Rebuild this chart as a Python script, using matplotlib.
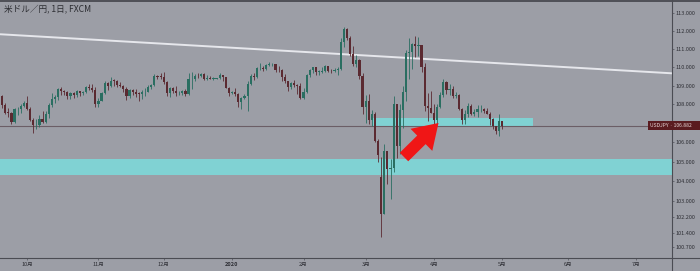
import numpy as np
import pandas as pd
import matplotlib
matplotlib.use('Agg')
import matplotlib.pyplot as plt
from matplotlib.patches import FancyArrow, Rectangle
from matplotlib.lines import Line2D
from matplotlib.ticker import FixedLocator, NullLocator

plt.rcParams['font.family'] = ['Noto Sans CJK JP', 'DejaVu Sans']

title = '米ドル／円, 1日, FXCM'
symbol = 'USDJPY'
last_price = 106.882

# daily candles, 2019-09-18 .. 2020-05-01 (weekdays)
opens = [
    108.15, 108.45, 107.97, 107.56, 107.55, 107.05, 107.75, 107.76, 107.92,
    108.07, 107.76, 107.18, 106.90, 106.93, 107.25, 107.09, 107.49, 107.95, 108.28, 108.38, 108.85,
    108.74, 108.64, 108.43, 108.62, 108.48, 108.70, 108.62, 108.67, 108.94, 108.88, 108.77,
    108.03, 108.20, 108.59, 109.16, 108.97, 109.28, 109.26, 109.05, 109.00, 108.82, 108.44,
    108.79, 108.66, 108.58, 108.57, 108.64, 108.69, 108.96, 109.05, 109.52, 109.48,
    109.47, 109.18, 108.62, 108.87, 108.74, 108.59, 108.59, 108.70, 108.55, 109.36, 109.37,
    109.54, 109.52, 109.62, 109.39, 109.43, 109.38, 109.38, 109.40, 109.56, 109.45, 108.87,
    108.61, 108.65, 108.55, 108.11, 108.36, 108.45, 109.08, 109.52, 109.47, 109.95, 109.98, 109.89,
    110.14, 110.15, 110.17, 109.85, 109.83, 109.48, 109.27, 108.93, 109.16, 109.02, 108.99,
    108.36, 108.67, 109.56, 109.83, 109.99, 109.76, 109.76, 109.81, 110.07, 109.82,
    109.78, 109.87, 109.89, 111.40, 112.11, 111.61, 110.72, 110.20, 110.39, 109.51,
    107.89, 108.20, 107.16, 107.50, 106.10, 104.20, 102.35, 105.55, 104.62, 104.66, 108.01,
    105.83, 107.71, 108.67, 110.77, 110.80, 111.24, 111.18, 111.20, 110.03, 107.94, 107.80,
    107.53, 107.16, 107.88, 108.48, 109.22, 108.78, 108.81, 108.45, 108.48, 107.76, 107.20,
    107.52, 107.92, 107.52, 107.62, 107.74, 107.76, 107.65, 107.50, 107.25, 106.87, 106.58,
    107.14,
]
highs = [
    108.48, 108.48, 108.07, 107.79, 107.62, 107.84, 107.86, 108.03, 108.18,
    108.47, 107.87, 107.29, 107.21, 107.43, 107.64, 107.64, 108.08, 108.63, 108.48, 108.90,
    108.94, 108.78, 108.74, 108.68, 108.68, 108.76, 108.70, 108.74, 109.00, 109.07, 109.11, 108.95,
    108.32, 108.68, 109.24, 109.19, 109.48, 109.36, 109.29, 109.19, 109.06, 108.91, 108.83,
    108.84, 108.82, 108.64, 108.76, 108.88, 109.03, 109.12, 109.61, 109.60, 109.69,
    109.72, 109.23, 108.92, 108.91, 108.98, 108.72, 108.77, 108.83, 109.70, 109.73, 109.61,
    109.69, 109.71, 109.70, 109.57, 109.53, 109.48, 109.44, 109.68, 109.59, 109.49, 108.94,
    108.72, 108.86, 108.62, 108.38, 108.56, 109.28, 109.64, 109.69, 110.00, 110.22, 110.04, 110.19,
    110.29, 110.22, 110.20, 110.04, 109.91, 109.63, 109.18, 109.22, 109.33, 109.12, 109.15,
    108.86, 109.62, 109.93, 110.02, 110.02, 109.86, 110.02, 110.14, 110.08, 109.89,
    109.94, 110.00, 111.59, 112.22, 112.16, 111.68, 111.17, 110.65, 110.47, 109.70,
    108.51, 108.57, 107.70, 107.58, 106.20, 105.23, 105.91, 105.57, 105.15, 108.44, 107.84,
    108.00, 108.99, 110.95, 111.57, 111.31, 111.71, 111.66, 111.16, 110.21, 108.59, 108.70,
    108.04, 108.00, 108.68, 109.38, 109.28, 109.10, 109.00, 108.66, 108.56, 107.83, 107.73,
    108.08, 108.05, 107.78, 107.99, 107.98, 107.82, 107.82, 107.59, 107.27, 106.88, 107.47,
    107.10,
]
lows = [
    108.07, 107.79, 107.51, 107.32, 106.97, 107.00, 107.43, 107.57, 107.88,
    107.72, 107.11, 106.48, 106.69, 106.80, 107.00, 107.01, 107.30, 107.87, 108.10, 108.24,
    108.50, 108.50, 108.29, 108.30, 108.35, 108.41, 108.45, 108.53, 108.60, 108.78, 108.64, 107.89,
    107.88, 108.20, 108.55, 108.77, 108.92, 108.99, 108.92, 108.94, 108.64, 108.25, 108.33,
    108.53, 108.42, 108.21, 108.28, 108.47, 108.66, 108.83, 109.00, 109.37, 109.39,
    109.07, 108.43, 108.42, 108.63, 108.45, 108.48, 108.49, 108.44, 108.53, 108.84, 109.28,
    109.44, 109.45, 109.29, 109.31, 109.34, 109.32, 109.34, 109.36, 109.28, 108.86, 108.46,
    108.56, 108.46, 107.85, 107.77, 108.30, 107.65, 109.05, 109.29, 109.44, 109.85, 109.77, 109.84,
    110.05, 110.07, 109.76, 109.76, 109.26, 109.17, 108.73, 108.81, 108.93, 108.58, 108.31,
    108.30, 108.60, 109.45, 109.70, 109.60, 109.57, 109.68, 109.76, 109.75, 109.70,
    109.76, 109.60, 109.86, 111.11, 111.50, 110.62, 110.06, 110.00, 109.37, 107.51,
    107.00, 106.96, 106.84, 106.00, 105.01, 101.18, 102.65, 103.88, 103.08, 104.46, 105.17,
    105.42, 106.76, 108.17, 109.37, 109.91, 110.57, 110.59, 109.76, 107.68, 107.14, 107.54,
    106.92, 106.95, 107.79, 108.40, 108.56, 108.52, 108.34, 108.34, 107.69, 106.95, 106.98,
    107.36, 107.43, 107.39, 107.35, 107.60, 107.57, 107.48, 106.90, 106.73, 106.46, 106.36,
    106.68,
]
closes = [
    108.45, 107.97, 107.56, 107.55, 107.05, 107.75, 107.76, 107.92, 108.07,
    107.76, 107.18, 106.90, 106.93, 107.25, 107.09, 107.49, 107.95, 108.28, 108.38, 108.85,
    108.74, 108.64, 108.43, 108.62, 108.48, 108.70, 108.62, 108.67, 108.94, 108.88, 108.77, 108.03,
    108.20, 108.59, 109.16, 108.97, 109.28, 109.26, 109.05, 109.00, 108.82, 108.44, 108.79,
    108.66, 108.58, 108.57, 108.64, 108.69, 108.96, 109.05, 109.52, 109.48, 109.47,
    109.18, 108.62, 108.87, 108.74, 108.59, 108.59, 108.70, 108.55, 109.36, 109.37, 109.54,
    109.52, 109.62, 109.39, 109.43, 109.38, 109.38, 109.40, 109.56, 109.45, 108.87, 108.61,
    108.65, 108.55, 108.11, 108.36, 108.45, 109.08, 109.52, 109.47, 109.95, 109.98, 109.89, 110.14,
    110.15, 110.17, 109.85, 109.83, 109.48, 109.27, 108.93, 109.16, 109.02, 108.99, 108.36,
    108.67, 109.56, 109.83, 109.99, 109.76, 109.76, 109.81, 110.07, 109.82, 109.78,
    109.87, 109.89, 111.40, 112.11, 111.61, 110.72, 110.20, 110.39, 109.51, 107.89,
    108.20, 107.16, 107.50, 106.10, 105.37, 102.35, 105.55, 104.62, 104.66, 108.01, 105.83,
    107.71, 108.67, 110.77, 110.80, 111.24, 111.18, 111.20, 110.03, 107.94, 107.80, 107.53,
    107.16, 107.88, 108.48, 109.22, 108.78, 108.81, 108.45, 108.48, 107.76, 107.20, 107.52,
    107.92, 107.52, 107.62, 107.74, 107.76, 107.65, 107.50, 107.25, 106.87, 106.58, 107.14,
    106.882,
]

# drawn zones and trend line (prices)
lower_zone = (104.30, 105.15)
upper_zone = (106.86, 107.28)
upper_zone_dates = ('2020-03-04', '2020-05-15')
trend_prices = (111.80, 109.67)

ytick_vals = [113, 112, 111, 110, 109, 108, 107, 106, 105, 104, 103, 102.2, 101.4, 100.7]

days = pd.bdate_range('2019-09-18', '2020-07-31')
n = len(closes)
x = np.arange(n)
o, h, l, c = map(np.array, (opens, highs, lows, closes))

bg = '#9c9ea6'
W, H = 700, 271
fig = plt.figure(figsize=(W / 100, H / 100), dpi=100, facecolor=bg)
ax = fig.add_axes([0, 13 / H, 672 / W, 258 / H])
ax.set_facecolor(bg)
ax.set_yscale('log')
ax.set_ylim(100.14, 113.70)
x0, x1 = 0.31, 216.6
ax.set_xlim(x0, x1)
for s in ax.spines.values():
    s.set_visible(False)

zone_col = '#80d2d3'
ax.axhspan(*lower_zone, color=zone_col, lw=0, zorder=1)
zi = [days.get_loc(pd.Timestamp(d)) for d in upper_zone_dates]
ax.fill_between(zi, upper_zone[0], upper_zone[1], color=zone_col, lw=0, zorder=1)

ax.axhline(last_price, color='#6b5e66', lw=0.8, zorder=2)
ax.plot([x0, x1], trend_prices, color='#e6e7ec', lw=1.4, zorder=2, solid_capstyle='butt')

up = c >= o
cols = np.where(up, '#2a6e61', '#5b2a31')
lo = np.minimum(o, c)
hi = np.maximum(o, c)
ax.vlines(x, np.minimum(l, lo), np.maximum(h, hi), colors=cols, lw=0.6, zorder=3)
ax.bar(x, np.maximum(hi - lo, 0.03), bottom=lo, width=0.7, color=cols, lw=0, zorder=4)

# right price scale (107 is covered by the last-price label)
ax.yaxis.tick_right()
ax.yaxis.set_major_locator(FixedLocator(ytick_vals))
ax.yaxis.set_minor_locator(NullLocator())
ax.set_yticklabels(['' if v == 107 else f'{v:.3f}' for v in ytick_vals])
ax.tick_params(axis='y', length=1.6, width=0.5, color='#50515a', labelcolor='#2e2f35',
               labelsize=4, pad=1.2)

# month ticks
tick_pos, tick_lab = [], []
seen = set()
for i, d in enumerate(days):
    key = (d.year, d.month)
    if key in seen:
        continue
    seen.add(key)
    if d < pd.Timestamp('2019-10-01'):
        continue
    tick_pos.append(i)
    tick_lab.append('2020' if d.month == 1 else f'{d.month}月')
ax.set_xticks(tick_pos)
ax.set_xticklabels(tick_lab)
ax.tick_params(axis='x', length=1.6, width=0.5, color='#50515a', labelcolor='#2e2f35',
               labelsize=4, pad=1.6)
for t in ax.get_xticklabels():
    if t.get_text() == '2020':
        t.set_fontweight('bold')

# frame lines
fig.add_artist(Line2D([0, 1], [13 / H, 13 / H], transform=fig.transFigure, color='#4b4c53', lw=0.8))
fig.add_artist(Line2D([672 / W, 672 / W], [0, 1], transform=fig.transFigure, color='#4b4c53', lw=0.8))
fig.add_artist(Rectangle((0, 1 - 1.5 / H), 1, 1.5 / H, transform=fig.transFigure,
                         color='#505158', lw=0))

# last price label
fig.add_artist(Rectangle((648 / W, (H - 129.5) / H), 52 / W, 8 / H, transform=fig.transFigure,
                         color='#5a1b1f', lw=0, zorder=5))
fig.text(650 / W, (H - 125.5) / H, f'{symbol} · {last_price:.3f}', fontsize=3.6,
         color='#e6d6d6', va='center', ha='left', zorder=6)

fig.text(4 / W, 1 - 9 / H, title, fontsize=6.2, color='#2b2c31', va='center', ha='left')

# red arrow
fig.add_artist(FancyArrow(4.04, 1.14, 0.345, 0.34, width=0.12, head_width=0.31,
                          head_length=0.24, length_includes_head=True,
                          transform=fig.dpi_scale_trans, color='#f01616', lw=0, zorder=5))

fig.savefig('out.png', dpi=100, facecolor=bg)
